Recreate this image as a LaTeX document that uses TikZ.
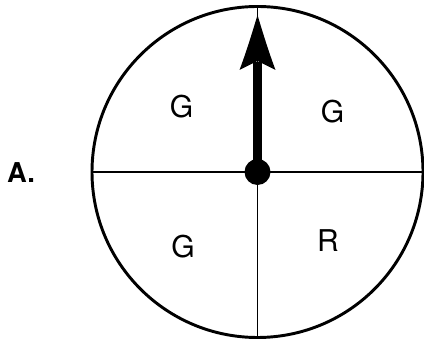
\documentclass[tikz,border=0pt]{standalone}
\usepackage{fontspec}
\setmainfont{TeX Gyre Heros}
\usetikzlibrary{calc}

\begin{document}
\begin{tikzpicture}[x=0.75pt, y=-0.75pt,
        rim/.style={line width=2.2pt},
        divider/.style={line width=0.9pt},
        sector/.style={font=\fontsize{22.5}{24}\selectfont, inner sep=0pt},
        pointer/.style={line width=6.8pt}]
                \useasboundingbox (0,0) rectangle (424,341);
                \coordinate (O) at (257.5,172);
                \draw[rim] (O) circle[radius=165.5];
                \draw[divider] ($(O)+(-165.5,0)$) -- ($(O)+(165.5,0)$);
                \draw[divider] ($(O)+(0,-165.5)$) -- ($(O)+(0,165.5)$);
                % spinner arrow
                \draw[pointer] (O) -- ($(O)+(0,-110)$);
                \fill (257.5,15) .. controls (262,30) and (268,50) .. (275.5,70)
                    -- (257.5,61) -- (239.5,70) .. controls (247,50) and (253,30) .. cycle;
                \fill (O) circle[radius=13];
                % labels
                \node[sector] (g1) at (181.5,106.5) {G};
                \node[sector] (g2) at (332.5,112) {G};
                \node[sector] (g3) at (183,246.5) {G};
                \node[sector] (r1) at (328,240.3) {R};
                \node[sector, font=\fontsize{20.5}{24}\selectfont\bfseries] (lbl) at (21,173) {A.};
            \end{tikzpicture}
\end{document}
